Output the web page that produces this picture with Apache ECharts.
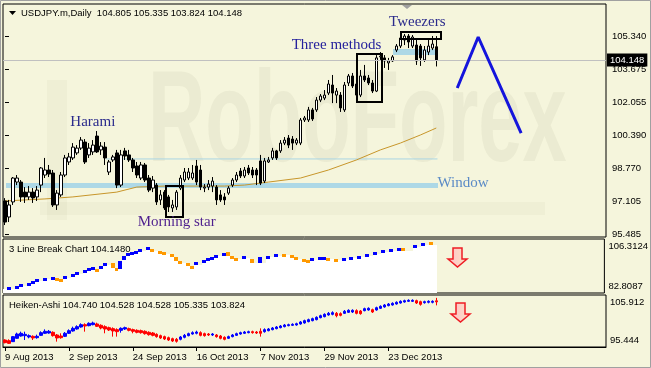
<!DOCTYPE html>
<html><head><meta charset="utf-8">
<script src="https://cdn.jsdelivr.net/npm/echarts@6/dist/echarts.min.js"></script>
<style>html,body{margin:0;padding:0;background:#f5f5dc}#c{width:651px;height:368px}</style>
</head><body><div id="c"></div>
<script>
// ---------- DATA ----------
const tickLabels = ['9 Aug 2013','2 Sep 2013','24 Sep 2013','16 Oct 2013','7 Nov 2013','29 Nov 2013','23 Dec 2013'];
const tickEvery = 16;
const priceTicks = [95.485, 97.105, 98.770, 100.390, 102.055, 103.675, 105.340];
const lastPrice = 104.148;
const lbRange = [82.8087, 106.3124];
const haRange = [95.444, 105.912];

const open = [97.13,96.33,97.08,98.07,98.07,97.57,97.33,97.57,97.33,97.92,
 98.42,98.67,98.52,96.93,97.43,98.42,99.07,99.27,99.52,99.76,
 100.06,99.42,99.57,100.36,99.67,99.81,98.57,99.17,99.52,97.92,
 99.62,99.42,99.17,98.87,98.27,98.92,98.27,97.77,97.92,97.18,
 97.57,97.33,96.78,96.83,97.77,98.17,98.27,98.27,98.87,98.67,
 97.77,97.82,97.87,97.82,97.43,97.33,97.52,97.92,98.17,98.62,
 98.37,98.77,98.67,98.67,99.12,98.12,99.07,99.27,99.62,99.62,
 100.01,100.26,100.21,100.01,100.01,101.16,101.16,101.66,101.66,102.15,
 102.25,102.50,102.90,102.40,102.40,101.66,103.00,103.35,102.95,102.40,
 103.35,103.25,103.00,102.60,104.30,104.25,104.00,104.10,104.64,104.84,
 105.14,105.34,104.84,104.89,104.84,104.15,104.54,104.74,104.805];
const close = [96.08,96.93,98.27,98.27,97.33,97.33,97.57,97.28,97.67,98.77,
 98.67,98.47,96.93,97.52,98.42,99.27,99.32,99.81,99.76,100.16,
 99.07,99.76,99.91,99.57,99.86,99.27,99.07,99.32,97.92,99.42,
 99.37,99.17,98.77,98.42,98.92,98.17,97.67,98.17,97.08,97.43,
 96.78,96.83,96.93,97.57,98.27,98.57,98.57,98.52,98.07,97.82,
 97.82,97.97,98.12,97.18,97.18,97.18,97.77,98.17,98.42,98.37,
 98.67,98.52,98.42,98.42,98.02,99.12,99.17,99.62,99.27,100.01,
 100.16,99.91,100.01,100.16,101.16,101.26,101.66,101.21,102.15,102.35,
 102.40,102.95,102.50,102.60,101.76,102.90,103.35,102.85,102.40,103.35,
 103.15,103.00,102.60,104.25,104.34,104.10,104.10,104.30,104.84,105.24,
 105.34,105.04,105.29,104.10,104.25,104.64,104.84,104.94,104.148];
const high = [97.27,97.18,98.32,98.42,98.17,97.82,97.87,97.77,97.87,98.82,
 99.27,98.92,98.67,97.67,98.57,99.42,99.52,100.01,99.91,100.31,
 100.21,100.01,100.16,100.61,100.06,100.06,99.17,99.42,99.67,99.67,
 99.77,99.67,99.27,99.07,99.07,99.02,98.42,98.37,98.02,97.67,
 97.67,97.43,97.18,97.67,98.42,98.77,98.77,98.92,99.17,98.92,
 97.97,98.17,98.32,97.92,97.67,97.52,97.87,98.27,98.57,98.77,
 98.82,98.92,98.82,98.77,99.42,99.27,99.32,99.77,99.67,100.16,
 100.31,100.41,100.36,100.26,101.26,101.36,101.81,101.76,102.30,102.45,
 102.65,103.15,103.40,102.75,102.55,103.05,103.45,103.50,103.15,103.65,
 103.90,103.40,103.15,104.39,104.54,104.39,104.25,104.39,104.94,105.39,
 105.44,105.44,105.39,105.24,104.94,104.84,105.14,105.34,105.335];
const low = [95.93,96.08,96.93,97.92,97.08,97.03,97.18,97.03,97.13,97.57,
 98.27,98.32,96.83,96.68,97.33,98.32,98.92,99.17,99.42,99.67,
 98.97,99.27,99.42,99.52,99.42,98.92,98.42,99.07,97.77,97.82,
 99.17,99.07,98.57,98.27,98.17,98.07,97.57,97.57,96.93,96.93,
 96.68,96.58,96.58,96.68,97.67,98.07,98.17,98.17,97.92,97.67,
 97.57,97.67,97.57,96.93,97.08,96.93,97.43,97.82,98.07,98.27,
 98.27,98.42,98.27,97.92,97.92,98.02,99.02,99.17,99.17,99.52,
 99.91,99.76,99.67,99.91,99.91,101.06,101.06,101.11,101.56,102.05,
 102.15,102.40,102.00,102.00,101.56,101.56,102.85,102.75,102.25,102.30,
 103.05,102.90,102.50,102.55,104.15,103.75,103.65,104.05,104.54,104.74,
 104.89,104.74,104.74,103.90,103.85,104.05,104.39,104.64,103.824];

// moving average (read at points along the curve)
const maIdx = [0,10,17,28,33,40,55,60,66,74,81,88,94,99,104,108];
const maVal = [97.13,97.23,97.33,97.57,97.82,97.87,97.87,97.92,98.07,98.27,98.67,99.17,99.67,100.01,100.41,100.76];

// 3 Line Break bricks
const lbIdx = [1,3,4,6,7,8,10,12,13,14,15,17,18,20,21,22,23,24,25,27,28,29,30,31,32,33,34,36,37,39,40,42,43,44,46,47,48,50,51,52,53,55,56,57,58,60,62,64,66,68,70,72,73,75,76,77,79,80,81,83,85,87,89,91,93,95,97,99,100,103,105,107];
const lbTop = [85.28,86.00,86.58,87.31,88.03,88.76,89.48,89.92,89.48,89.05,90.21,90.93,91.80,92.82,93.54,94.12,93.40,94.70,95.72,95.87,93.69,96.88,99.06,100.07,100.51,101.23,101.96,102.83,102.10,101.23,100.51,99.78,98.62,96.74,95.72,94.70,96.16,97.17,97.90,98.62,99.49,100.36,100.65,98.77,98.19,99.06,97.75,98.33,99.06,99.64,99.78,99.20,98.33,97.75,97.17,97.90,98.48,98.48,98.19,97.75,98.19,98.62,99.06,99.64,100.65,101.52,101.81,102.54,102.25,103.70,104.72,104.86];
const lbBot = [84.55,85.28,85.86,86.58,87.31,88.03,88.76,89.19,88.76,88.47,89.19,90.21,91.08,91.95,92.82,93.40,91.95,93.84,94.85,93.54,92.96,93.40,97.17,99.20,99.64,100.36,101.09,101.96,101.09,100.36,99.64,99.06,96.59,95.87,95.00,93.84,95.00,96.45,97.17,97.90,98.77,99.64,99.06,98.04,97.61,97.90,96.01,96.01,98.33,98.77,99.20,98.33,97.61,97.03,96.45,97.03,97.90,97.90,97.46,97.17,97.46,98.04,98.48,99.06,99.93,100.80,101.23,101.81,101.09,102.98,103.85,103.85];
const lbDir = [1,1,1,1,1,1,1,1,-1,-1,1,1,1,1,1,1,-1,1,1,-1,-1,1,1,1,1,1,1,1,-1,-1,-1,-1,-1,-1,-1,-1,1,1,1,1,1,1,-1,-1,-1,1,-1,1,1,1,-1,-1,-1,-1,-1,1,1,1,-1,-1,1,1,1,1,1,1,1,1,-1,1,1,-1];

// Heiken-Ashi
const haOpen = [96.85,96.72,96.52,97.19,97.66,97.73,97.46,97.59,97.32,97.79,
 98.20,98.26,98.40,97.86,97.66,97.59,98.20,98.67,99.07,99.47,
 99.94,99.74,99.94,100.08,99.81,99.54,99.34,99.14,98.94,98.80,
 99.07,99.14,98.94,98.80,98.73,98.60,98.40,98.26,97.99,97.73,
 97.53,97.32,97.12,96.99,96.99,97.39,97.73,98.06,98.20,98.33,
 98.13,98.06,97.86,97.86,97.66,97.39,97.19,97.53,97.79,98.06,
 98.20,98.33,98.53,98.46,98.60,98.53,98.73,98.94,99.14,99.34,
 99.54,99.74,99.81,99.87,100.08,100.28,100.55,100.75,100.95,101.35,
 101.55,101.89,102.02,102.22,102.16,102.22,102.42,102.49,102.76,102.69,
 102.76,102.89,102.96,102.89,103.23,103.50,103.77,103.90,104.10,104.30,
 104.50,104.64,104.64,104.77,104.57,104.37,104.44,104.44,104.74];
const haClose = [96.32,96.18,97.53,98.06,98.20,97.99,97.73,97.26,97.59,98.33,
 98.60,98.60,97.73,97.26,97.32,98.20,98.73,99.20,99.54,99.94,
 99.67,100.21,100.28,99.61,99.27,99.07,98.87,98.67,98.53,99.20,
 99.34,98.80,98.60,98.40,98.33,98.13,97.93,97.79,97.53,97.26,
 97.06,96.85,96.65,96.59,97.46,97.79,98.13,98.33,98.46,97.79,
 97.73,97.86,98.06,97.53,97.19,96.99,97.53,97.86,98.13,98.33,
 98.46,98.53,98.33,98.26,98.20,98.94,99.07,99.27,99.47,99.67,
 99.87,99.94,100.01,100.14,100.48,100.75,100.95,101.15,101.42,101.75,
 102.02,102.22,102.36,101.75,101.82,102.63,102.83,102.83,102.22,102.16,
 103.16,103.23,102.49,103.36,103.63,103.90,104.10,104.23,104.44,104.64,
 104.77,104.84,104.84,104.30,104.03,104.57,104.64,104.64,104.53];
const haHigh = [96.99,96.99,97.66,98.33,98.53,98.53,97.99,97.79,97.93,98.60,
 99.00,98.87,98.60,98.06,98.20,98.46,99.00,99.54,99.81,100.21,
 100.21,100.41,100.55,100.34,100.01,99.81,99.54,99.40,99.20,99.40,
 99.54,99.34,99.14,99.00,98.94,98.80,98.60,98.46,98.20,97.93,
 97.73,97.53,97.32,97.26,97.66,98.06,98.33,98.60,98.73,98.60,
 98.33,98.26,98.26,98.06,97.86,97.59,97.73,98.06,98.33,98.53,
 98.67,98.73,98.73,98.67,99.20,99.20,99.27,99.47,99.67,99.87,
 100.08,100.14,100.21,100.34,100.68,100.95,101.15,101.35,101.62,101.95,
 102.22,102.49,102.63,102.49,102.42,102.89,103.03,103.03,103.03,102.89,
 103.36,103.43,103.16,103.56,103.83,104.10,104.30,104.44,104.64,104.84,
 104.97,105.04,105.04,104.97,104.77,104.77,104.84,104.84,105.335];
const haLow = [96.18,96.05,96.45,97.12,97.53,96.85,97.19,96.85,97.12,97.66,
 98.06,98.13,97.53,96.52,97.12,97.46,98.06,98.53,98.94,99.34,
 98.53,99.61,99.81,99.47,99.00,98.20,98.67,97.53,97.53,98.33,
 98.87,98.60,98.20,98.20,98.13,97.93,97.73,97.59,97.32,97.06,
 96.85,96.65,96.45,96.32,96.79,97.19,97.59,97.93,97.99,97.59,
 97.53,97.66,97.66,97.32,96.99,96.79,97.06,97.39,97.66,97.93,
 98.06,98.20,98.13,98.06,97.53,98.33,98.60,98.80,99.00,99.20,
 99.40,99.61,99.67,99.74,99.94,100.14,100.41,100.61,100.81,101.22,
 101.42,101.75,101.82,101.42,101.62,102.09,102.29,102.29,102.02,101.95,
 102.63,102.76,102.29,102.76,103.09,103.36,103.63,103.77,103.97,104.17,
 104.37,104.50,104.50,104.10,103.77,104.17,104.23,104.23,103.824];

// annotations (data coordinates: bar index, price)
const windowBand = [0.2, 108.3, 98.02, 97.77];
const tweezBand = [97.25, 108.3, 104.69, 104.39];
const windowLine = [[25.25, 99.22], [108.3, 99.22]];
const boxX0 = [40.25, 88.25, 99.25];
const boxX1 = [44.5, 94.5, 109.25];
const boxTop = [97.87, 104.44, 105.54];
const boxBot = [96.33, 102.05, 105.19];
const annText = ['Harami', 'Morning star', 'Three methods', 'Tweezers', 'Window'];
const annX = [22, 43, 83, 103.25, 108.3];
const annY = [101.05, 96.08, 104.89, 106.04, 98.02];
const annColor = ['#2b2b8c', '#4e1f8e', '#25209c', '#2b2b8c', '#5a8ac6'];
const annAlign = ['center', 'center', 'center', 'center', 'left'];
const forecastX = [113.25, 118.5, 129.25];
const forecastY = [102.75, 105.29, 100.51];

// ---------- BUILD ----------
const FONT = "'Liberation Sans', Arial, sans-serif";
const SERIF = "'Liberation Serif', 'Times New Roman', serif";
const MON = ['Jan','Feb','Mar','Apr','May','Jun','Jul','Aug','Sep','Oct','Nov','Dec'];
const NCAT = 151;
const cats = [];
(function () {
  const d = new Date(Date.UTC(2013, 7, 9));
  while (cats.length < NCAT) {
    const wd = d.getUTCDay();
    if (wd !== 0 && wd !== 6) cats.push(d.getUTCDate() + ' ' + MON[d.getUTCMonth()] + ' ' + d.getUTCFullYear());
    d.setUTCDate(d.getUTCDate() + 1);
  }
})();

const candles = open.map((o, i) => [o, close[i], low[i], high[i]]);
const haCandles = haOpen.map((o, i) => [o, haClose[i], haLow[i], haHigh[i]]);
const maData = maIdx.map((x, k) => [x, maVal[k]]);

const lbData = [];
(function () {
  let k = 0, level = lbBot[0];
  for (let i = 0; i < open.length; i++) {
    let dir = 0, t = level, b = level;
    if (k < lbIdx.length && lbIdx[k] === i) { t = lbTop[k]; b = lbBot[k]; dir = lbDir[k]; level = b; k++; }
    lbData.push([i, level, t, b, dir]);
  }
})();

const showTick = (idx) => idx % tickEvery === 0 && idx / tickEvery < tickLabels.length;

function renderLB(params, api) {
  const i = api.value(0);
  const w = api.size([1, 0])[0];
  const p = api.coord([i, api.value(1)]);
  const cs = params.coordSys;
  const x0 = Math.round(p[0] - w / 2), x1 = Math.round(p[0] + w / 2);
  const yb = cs.y + cs.height;
  const yl = Math.round(p[1]);
  const ch = [{ type: 'rect', shape: { x: x0, y: yl, width: x1 - x0, height: yb - yl }, style: { fill: '#ffffff' } }];
  const dir = api.value(4);
  if (dir !== 0) {
    const yt = Math.round(api.coord([i, api.value(2)])[1]);
    const ybt = Math.round(api.coord([i, api.value(3)])[1]);
    ch.push({ type: 'rect', shape: { x: x0, y: yt, width: x1 - x0, height: Math.max(3, ybt - yt) }, style: { fill: dir > 0 ? '#0000ff' : '#ff9900' } });
  }
  return { type: 'group', children: ch };
}
function renderBand(params, api) {
  const a = api.coord([api.value(0), api.value(2)]);
  const b = api.coord([api.value(1), api.value(3)]);
  return { type: 'rect', shape: { x: Math.round(a[0]), y: Math.round(a[1]), width: Math.round(b[0] - a[0]), height: Math.round(b[1] - a[1]) }, style: { fill: '#add8e6' } };
}
function renderBox(params, api) {
  const a = api.coord([api.value(0), api.value(2)]);
  const b = api.coord([api.value(1), api.value(3)]);
  return { type: 'rect', shape: { x: Math.round(a[0]), y: Math.round(a[1]), width: Math.round(b[0] - a[0]), height: Math.round(b[1] - a[1]) }, style: { fill: 'none', stroke: '#000', lineWidth: 2 } };
}
function renderText(params, api) {
  const k = params.dataIndex;
  const p = api.coord([api.value(0), api.value(1)]);
  return { type: 'text', style: { text: annText[k], x: p[0], y: p[1], fill: annColor[k], font: '15px ' + SERIF,
    align: annAlign[k], verticalAlign: 'middle', textAlign: annAlign[k], textVerticalAlign: 'middle' } };
}

const axisText = { color: '#000', fontSize: 9.5, fontFamily: FONT };
const G = { left: 3, width: 603, show: true, borderColor: '#000', borderWidth: 1, backgroundColor: 'transparent' };

const option = {
  animation: false,
  backgroundColor: '#f5f5dc',
  grid: [
    Object.assign({ top: 4, height: 233 }, G),
    Object.assign({ top: 239, height: 54 }, G),
    Object.assign({ top: 295, height: 52 }, G)
  ],
  xAxis: [
    { type: 'category', gridIndex: 0, data: cats, show: false },
    { type: 'category', gridIndex: 1, data: cats, show: false },
    { type: 'category', gridIndex: 2, data: cats,
      axisLine: { show: true, lineStyle: { color: '#000' } },
      axisTick: { show: true, interval: showTick, alignWithLabel: true, length: 4, lineStyle: { color: '#000' } },
      axisLabel: Object.assign({ interval: showTick, align: 'left', margin: 5,
        formatter: (v, idx) => tickLabels[idx / tickEvery] || v }, axisText),
      splitLine: { show: false } },
    { type: 'value', gridIndex: 0, min: -0.5, max: NCAT - 0.5, show: false }
  ],
  yAxis: [
    { type: 'value', gridIndex: 0, position: 'right', min: 95.335, max: 106.933,
      axisLine: { show: false }, splitLine: { show: false },
      axisTick: { show: true, customValues: priceTicks, length: 4, lineStyle: { color: '#000' } },
      axisLabel: Object.assign({ customValues: priceTicks, formatter: v => v.toFixed(3), margin: 6 }, axisText) },
    { type: 'value', gridIndex: 1, position: 'right', min: lbRange[0], max: lbRange[1],
      axisLine: { show: false }, splitLine: { show: false }, axisTick: { show: false },
      axisLabel: Object.assign({ customValues: lbRange, formatter: v => v.toFixed(4), margin: 4, lineHeight: 14,
        verticalAlignMinLabel: 'bottom', verticalAlignMaxLabel: 'top' }, axisText) },
    { type: 'value', gridIndex: 2, position: 'right', min: haRange[0], max: haRange[1],
      axisLine: { show: false }, splitLine: { show: false }, axisTick: { show: false },
      axisLabel: Object.assign({ customValues: haRange, formatter: v => v.toFixed(3), margin: 4, lineHeight: 14,
        verticalAlignMinLabel: 'bottom', verticalAlignMaxLabel: 'top' }, axisText) }
  ],
  series: [
    { type: 'custom', name: 'bands', xAxisIndex: 3, yAxisIndex: 0, z: 1, silent: true,
      renderItem: renderBand, data: [windowBand, tweezBand] },
    { type: 'line', name: 'windowLine', xAxisIndex: 3, yAxisIndex: 0, z: 1, silent: true, symbol: 'none',
      lineStyle: { color: '#a9d5e3', width: 1 }, data: windowLine },
    { type: 'line', name: 'MA', xAxisIndex: 3, yAxisIndex: 0, z: 2, silent: true, symbol: 'none',
      lineStyle: { color: '#c8962a', width: 1 }, data: maData },
    { type: 'candlestick', name: 'USDJPY.m', xAxisIndex: 0, yAxisIndex: 0, z: 3, barWidth: 3,
      itemStyle: { color: '#ffffff', color0: '#000000', borderColor: '#000000', borderColor0: '#000000', borderWidth: 1 },
      data: candles,
      markLine: { silent: true, symbol: ['none', 'none'], animation: false, data: [{ yAxis: lastPrice }],
        lineStyle: { color: '#c0c0c0', width: 1, type: 'solid' },
        label: { show: true, position: 'end', formatter: lastPrice.toFixed(3), color: '#fff', backgroundColor: '#000',
          padding: [2, 3, 1, 3], fontSize: 9.5, fontFamily: FONT, distance: 1 } } },
    { type: 'custom', name: 'boxes', xAxisIndex: 3, yAxisIndex: 0, z: 5, silent: true,
      renderItem: renderBox, data: boxX0.map((x, k) => [x, boxX1[k], boxTop[k], boxBot[k]]) },
    { type: 'custom', name: 'labels', xAxisIndex: 3, yAxisIndex: 0, z: 6, silent: true,
      renderItem: renderText, data: annX.map((x, k) => [x, annY[k]]) },
    { type: 'line', name: 'forecast', xAxisIndex: 3, yAxisIndex: 0, z: 6, silent: true, symbol: 'none',
      lineStyle: { color: '#1414dc', width: 3 }, data: forecastX.map((x, k) => [x, forecastY[k]]) },
    { type: 'custom', name: '3 Line Break', xAxisIndex: 1, yAxisIndex: 1, silent: true,
      renderItem: renderLB, data: lbData },
    { type: 'candlestick', name: 'Heiken-Ashi', xAxisIndex: 2, yAxisIndex: 2, barWidth: 3,
      itemStyle: { color: '#0000ff', color0: '#ff0000', borderColor: '#0000ff', borderColor0: '#ff0000', borderWidth: 1 },
      data: haCandles }
  ],
  graphic: [
    { type: 'text', x: 148, y: 125, scaleX: 0.61, z: 0, silent: true,
      style: { text: 'RoboForex', font: 'bold 130px ' + FONT, fill: 'rgba(110,110,80,0.065)', verticalAlign: 'middle', textVerticalAlign: 'middle' } },
    { type: 'rect', z: 0, silent: true, shape: { x: 47, y: 80, width: 20, height: 140 }, style: { fill: 'rgba(110,110,80,0.045)' } },
    { type: 'rect', z: 0, silent: true, shape: { x: 40, y: 202, width: 505, height: 13 }, style: { fill: 'rgba(110,110,80,0.045)' } },
    { type: 'polygon', silent: true, shape: { points: [[9, 11], [16, 11], [12.5, 15]] }, style: { fill: '#000' } },
    { type: 'text', x: 21, y: 13, silent: true, style: { text: 'USDJPY.m,Daily  104.805 105.335 103.824 104.148', font: '9.5px ' + FONT, fill: '#000', verticalAlign: 'middle', textVerticalAlign: 'middle' } },
    { type: 'polygon', silent: true, shape: { points: [[402, 5], [412, 5], [407, 9]] }, style: { fill: '#a0a0a0' } },
    { type: 'text', x: 9, y: 249, z: 10, silent: true, style: { text: '3 Line Break Chart 104.1480', font: '9.5px ' + FONT, fill: '#000', verticalAlign: 'middle', textVerticalAlign: 'middle' } },
    { type: 'text', x: 9, y: 305, z: 10, silent: true, style: { text: 'Heiken-Ashi 104.740 104.528 104.528 105.335 103.824', font: '9.5px ' + FONT, fill: '#000', verticalAlign: 'middle', textVerticalAlign: 'middle' } },
    { type: 'polygon', silent: true, shape: { points: [[453, 248], [462, 248], [462, 259], [467, 259], [457.5, 267], [448, 259], [453, 259]] },
      style: { fill: { type: 'linear', x: 0, y: 0, x2: 1, y2: 0, colorStops: [{ offset: 0, color: '#ffc0c8' }, { offset: 1, color: '#fbe2c4' }] }, stroke: '#ee1c24', lineWidth: 1.5 } },
    { type: 'polygon', silent: true, shape: { points: [[456, 303], [465, 303], [465, 314], [470, 314], [460.5, 322], [451, 314], [456, 314]] },
      style: { fill: { type: 'linear', x: 0, y: 0, x2: 1, y2: 0, colorStops: [{ offset: 0, color: '#ffc0c8' }, { offset: 1, color: '#fbe2c4' }] }, stroke: '#ee1c24', lineWidth: 1.5 } },
    { type: 'rect', silent: true, shape: { x: 0.5, y: 0.5, width: 650, height: 367 }, style: { fill: 'none', stroke: '#a0a0a0', lineWidth: 1 } }
  ]
};

const chart = echarts.init(document.getElementById('c'), null, { renderer: 'canvas', width: 651, height: 368 });
chart.setOption(option);
</script>
</body></html>
